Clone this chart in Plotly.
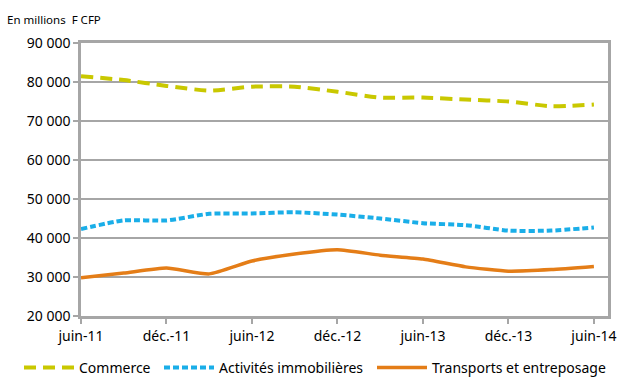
import plotly.graph_objects as go

quarters = ["juin-11", "sept-11", "déc.-11", "mars-12", "juin-12", "sept-12", "déc.-12",
            "mars-13", "juin-13", "sept-13", "déc.-13", "mars-14", "juin-14"]
commerce = [81500, 80500, 79000, 77800, 78800, 78800, 77500, 76000, 76000, 75500, 75000, 73800, 74200]
immobilier = [42300, 44500, 44500, 46200, 46300, 46600, 46000, 45000, 43800, 43300, 41900, 41900, 42700]
transports = [29800, 31000, 32300, 30800, 34100, 35900, 37000, 35600, 34600, 32600, 31500, 31900, 32700]
tick_labels = ["juin-11", "déc.-11", "juin-12", "déc.-12", "juin-13", "déc.-13", "juin-14"]
y_ticks = [20000, 30000, 40000, 50000, 60000, 70000, 80000, 90000]

x = list(range(len(quarters)))
font = "Noto Sans"
W, H = 630, 384

fig = go.Figure()
fig.add_trace(go.Scatter(x=x, y=commerce, name="Commerce", mode="lines", legend="legend",
                         line=dict(color="#C9C800", width=4, dash="12px,7px", shape="spline", smoothing=0.6)))
fig.add_trace(go.Scatter(x=x, y=immobilier, name="Activités immobilières", mode="lines", legend="legend2",
                         line=dict(color="#1AAEE8", width=4, dash="6px,3px", shape="spline", smoothing=0.6)))
fig.add_trace(go.Scatter(x=x, y=transports, name="Transports et entreposage", mode="lines", legend="legend3",
                         line=dict(color="#E47D17", width=3.5, shape="spline", smoothing=0.5)))

def leg(px):
    return dict(orientation="h", x=px / W, xanchor="left", xref="container",
                y=1 - 368 / H, yanchor="middle", yref="container",
                font=dict(size=14, family=font), itemwidth=50, bgcolor="rgba(0,0,0,0)")

fig.update_layout(
    width=W, height=H,
    margin=dict(l=81, r=22, t=43, b=68, autoexpand=False),
    paper_bgcolor="white", plot_bgcolor="white",
    font=dict(family=font, size=14, color="#000000"),
    showlegend=True,
    legend=leg(19), legend2=leg(159), legend3=leg(372),
    annotations=[dict(text="En millions  F CFP", xref="paper", yref="paper", x=-0.145,
                      y=(316 - 19) / 273, xanchor="left", yanchor="middle", showarrow=False,
                      font=dict(size=11.5, family=font))],
)
fig.update_xaxes(range=[0, 12.33], tickvals=list(range(0, 13, 2)), ticktext=tick_labels,
                 showgrid=False, showline=True, linecolor="#A6A6A6", linewidth=2.5, mirror=True,
                 ticks="outside", ticklen=5, tickcolor="#A6A6A6", tickwidth=2, zeroline=False,
                 automargin=False)
fig.update_yaxes(range=[20000, 90000], tickvals=y_ticks,
                 ticktext=[f"{v:,}".replace(",", " ") for v in y_ticks],
                 showgrid=True, gridcolor="#A6A6A6", gridwidth=2,
                 showline=True, linecolor="#A6A6A6", linewidth=2.5, mirror=True,
                 ticks="outside", ticklen=5, tickcolor="#A6A6A6", tickwidth=2, zeroline=False,
                 automargin=False)

fig.write_html("out.html", config={"displayModeBar": False},
               post_script="document.body.style.margin='0';")
